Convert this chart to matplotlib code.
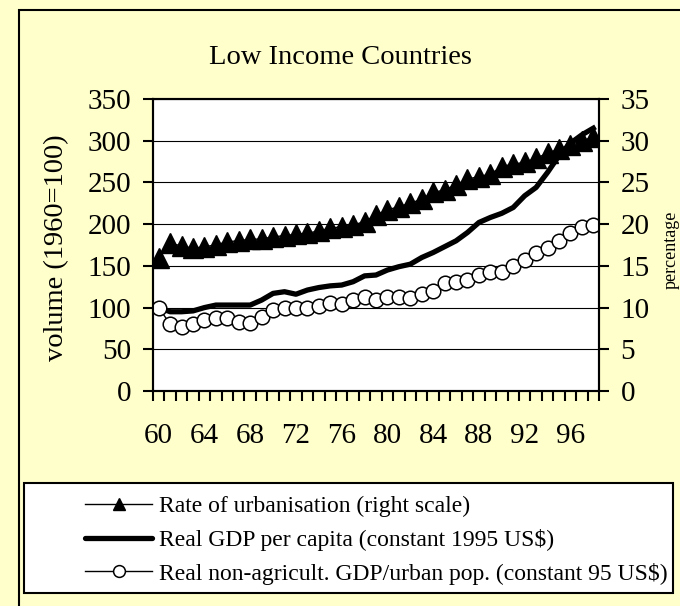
import matplotlib
matplotlib.use('Agg')
import matplotlib.pyplot as plt
from matplotlib.lines import Line2D
from matplotlib.patches import Rectangle
import numpy as np

plt.rcParams['font.family'] = ['Liberation Serif', 'DejaVu Serif']

years = list(range(1960, 1999))
urbanisation = [16.0, 17.7, 17.4, 17.1, 17.3, 17.5, 17.9, 18.0, 18.2, 18.2,
                18.5, 18.6, 18.8, 18.9, 19.2, 19.5, 19.7, 19.9, 20.3, 21.1,
                21.7, 22.1, 22.5, 23.0, 23.8, 24.1, 24.7, 25.4, 25.7, 26.0,
                26.9, 27.2, 27.4, 27.9, 28.5, 29.0, 29.5, 30.0, 30.4]
gdp_per_capita = [100, 95, 95, 96, 100, 103, 103, 103, 103, 109,
                  117, 119, 116, 121, 124, 126, 127, 131, 138, 139,
                  145, 149, 152, 160, 166, 173, 180, 190, 202, 208,
                  213, 220, 234, 244, 262, 282, 297, 307, 315]
nonagri_gdp_urban = [100, 80, 77, 80, 85, 87, 87, 83, 82, 89,
                     97, 99, 99, 100, 102, 106, 104, 109, 113, 109,
                     113, 113, 111, 116, 120, 129, 131, 133, 139, 143,
                     143, 150, 157, 165, 172, 180, 189, 196, 199]
tick_years = list(range(1960, 1997, 4))
tick_labels = [f"{y % 100:02d}" for y in tick_years]
left_ticks = list(range(0, 351, 50))
right_ticks = list(range(0, 36, 5))

labels = ["Rate of urbanisation (right scale)",
          "Real GDP per capita (constant 1995 US$)",
          "Real non-agricult. GDP/urban pop. (constant 95 US$)"]

BG = '#FFFFCC'
W, H = 680, 606
fig = plt.figure(figsize=(W / 100, H / 100), dpi=100, facecolor=BG)

# outer chart frame (runs off right/bottom)
fig.patches.append(Rectangle((19 / W, -0.05), 1.0, (1 - 10 / H) + 0.05,
                             transform=fig.transFigure, fill=False,
                             edgecolor='black', lw=1.5, zorder=1))

ax = fig.add_axes([153 / W, (H - 391) / H, (599 - 153) / W, (391 - 99) / H])
ax.set_facecolor('white')
ax.set_axisbelow(True)
ax.yaxis.grid(True, color='black', lw=0.8)

ax.plot(years, gdp_per_capita, color='black', lw=3.8, zorder=2)
ax.plot(years, nonagri_gdp_urban, color='black', lw=1, marker='o', ms=10.5,
        mfc='white', mec='black', mew=1.1, zorder=3)

ax.set_ylim(0, 350)
ax.set_yticks(left_ticks)
ax.set_xlim(1959.5, 1998.5)
ax.set_xticks(tick_years)
ax.set_xticklabels(tick_labels)
ax.set_xticks(np.arange(1959.5, 1999, 1), minor=True)
ax.tick_params(axis='x', which='major', length=0, pad=23, labelsize=21)
ax.tick_params(axis='x', which='minor', length=7, width=1.5, direction='out')
ax.tick_params(axis='y', direction='out', length=7.5, width=1.5, pad=8, labelsize=21)

ax2 = ax.twinx()
ax2.plot(years, urbanisation, color='black', lw=1, marker='^', ms=14.5,
         mfc='black', mec='black')
ax2.set_ylim(0, 35)
ax2.set_yticks(right_ticks)
ax2.tick_params(axis='y', direction='out', length=7.5, width=1.5, pad=8, labelsize=21)

for a in (ax, ax2):
    for s in a.spines.values():
        s.set_linewidth(1.5)
        s.set_color('black')

fig.text(340 / W, 1 - 58 / H, 'Low Income Countries', ha='center', va='center', fontsize=20.5)
fig.text(57 / W, 1 - 248 / H, 'volume (1960=100)', rotation=90, ha='center', va='center', fontsize=20.5)
fig.text(671 / W, 1 - 250 / H, 'percentage', rotation=90, ha='center', va='center', fontsize=13)

# legend box
fig.patches.append(Rectangle((24.5 / W, 1 - 593 / H), (673 - 24.5) / W, (593 - 483) / H,
                             transform=fig.transFigure, facecolor='white',
                             edgecolor='black', lw=1.5, zorder=1))
h1 = Line2D([], [], color='black', lw=1, marker='^', ms=9, mfc='black', mec='black')
h2 = Line2D([], [], color='black', lw=3.8, solid_capstyle='round')
h3 = Line2D([], [], color='black', lw=1, marker='o', ms=8.5, mfc='white', mec='black', mew=1.1)
fig.legend([h1, h2, h3], labels, loc='center left', bbox_to_anchor=(85 / W, 1 - 540 / H),
           frameon=False, fontsize=17, handlelength=2.85, handletextpad=0.3,
           labelspacing=0.5, borderpad=0, borderaxespad=0, numpoints=1)

fig.savefig('out.png', dpi=100, facecolor=BG)
